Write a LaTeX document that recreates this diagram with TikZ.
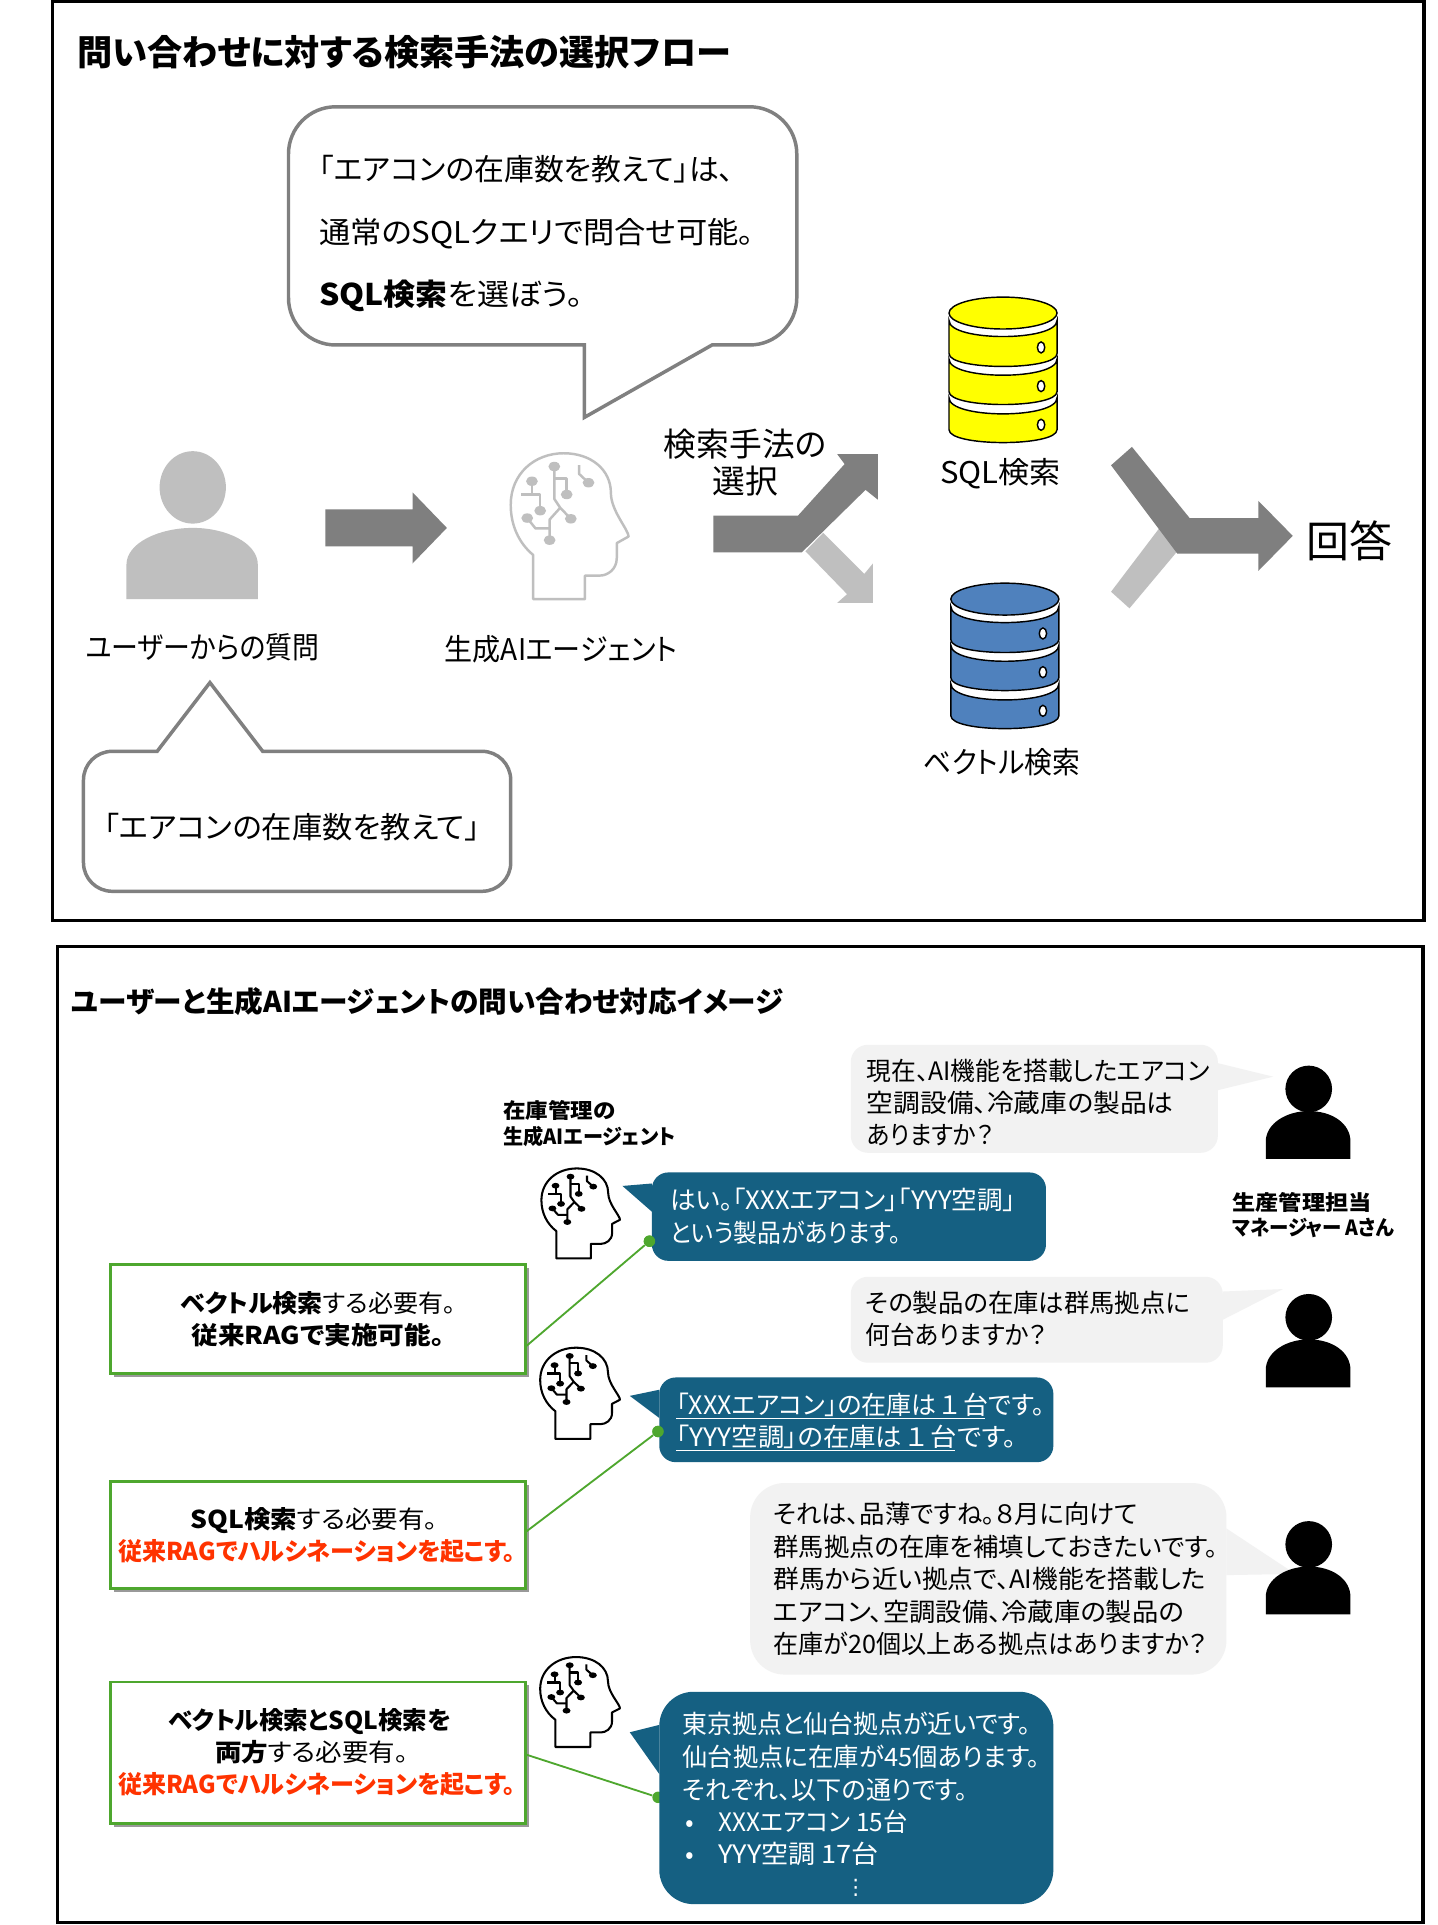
\documentclass[tikz,border=0pt]{standalone}
\usepackage{graphicx}
\usepackage{fontspec}
\setmainfont{Noto Sans CJK JP}[RawFeature={+palt}]
\newfontfamily\dvfont{DejaVu Sans}
\usetikzlibrary{shadows}
\definecolor{gfill}{HTML}{F2F2F2}
\definecolor{bbub}{HTML}{156082}
\definecolor{grn}{HTML}{4EA72E}
\definecolor{redt}{HTML}{FF3300}
\definecolor{ltg}{HTML}{BFBFBF}
\definecolor{dkg}{HTML}{7F7F7F}
\definecolor{cal}{HTML}{808080}
\definecolor{dby}{HTML}{FFFF00}
\definecolor{dbb}{HTML}{4F81BD}
\newcommand{\fsz}[1]{\fontsize{#1}{#1}\selectfont}
\newcommand{\sx}[2]{\scalebox{#1}[1]{#2}}
\newcommand{\padr}[1]{\rule{#1}{0pt}}
\tikzset{
  ln/.style={anchor=base west,inner sep=0pt,outer sep=0pt},
  lc/.style={anchor=base,inner sep=0pt,outer sep=0pt},
  tA/.style={font=\fsz{14.6},yshift=-5.5pt},
  tB/.style={font=\fsz{12.4},yshift=-4.7pt},
  tC/.style={font=\bfseries\fsz{10.2},yshift=-3.7pt},
  callout/.style={draw=cal,line width=1.7pt,fill=white},
  gbub/.style={fill=gfill,inner sep=0pt,rounded corners=8.4pt},
  bbubble/.style={fill=bbub,inner sep=0pt,rounded corners=8pt},
  gbox/.style={draw=grn,line width=1.4pt,fill=white,inner sep=0pt,align=center,
    font=\fontsize{12}{15.8}\selectfont,
    drop shadow={shadow xshift=1.7pt,shadow yshift=-1.7pt,fill=black,opacity=.4}},
  gl/.style={draw=grn,line width=.9pt},
  dot/.style={circle,fill=grn,inner sep=0pt,minimum size=5.6pt},
  frame/.style={draw=black,line width=1.6pt},
}
\newcommand{\brainicon}[6]{%
\begin{scope}[shift={(#1,#2)},xscale=#3,yscale=#4,draw=#5,line width=#6,line join=round]
\draw (.19,1) -- (.19,.70) .. controls (.07,.62) and (0,.50) .. (0,.36)
  .. controls (0,.15) and (.2,.01) .. (.45,.01)
  .. controls (.68,.01) and (.85,.12) .. (.85,.28)
  .. controls (.85,.40) and (1,.53) .. (1,.575)
  -- (.90,.62) -- (.90,.72) .. controls (.90,.80) and (.82,.84) .. (.76,.84)
  -- (.63,.84) -- (.63,1) -- cycle;
\draw (.37,.10) -- (.37,.32) -- (.42,.38) -- (.51,.455);
\draw (.37,.18) -- (.475,.18) -- (.475,.29);
\draw (.42,.38) -- (.33,.46) -- (.33,.60);
\draw (.33,.52) -- (.21,.52) -- (.14,.45);
\draw (.18,.20) -- (.18,.29);
\draw (.09,.29) -- (.25,.29) -- (.25,.40);
\draw (.58,.09) -- (.58,.15) -- (.66,.21);
\foreach \px/\py in {.37/.10,.51/.455,.475/.29,.33/.60,.14/.45,.18/.20,.25/.40,.66/.21}
  \fill[#5] (\px,\py) circle[x radius=.05,y radius=.032];
\end{scope}}
\newcommand{\personblack}[1]{%
\begin{scope}[yshift=-#1*0.6pt]
\fill[black] (1066,887) circle[radius=19];
\fill[black] (1031,944) -- (1031,930) .. controls (1031,915) and (1048,905) .. (1066,905)
  .. controls (1085,905) and (1100,915) .. (1100,930) -- (1100,944) -- cycle;
\end{scope}}
\newcommand{\dbstack}[3]{% cx, top y, colour
\begin{scope}[shift={(#1,#2)},draw=black,line width=.7pt,fill=#3]
\foreach \k in {0,1,2}{
 \pgfmathsetmacro{\yt}{19+31.5*\k}
 \pgfmathsetmacro{\yb}{46+31*\k}
 \filldraw (-44,\yt) .. controls (-44,\yt+17.5) and (44,\yt+17.5) .. (44,\yt) -- (44,\yb)
   .. controls (44,\yb+14) and (-44,\yb+14) .. (-44,\yb) -- cycle;
 \pgfmathsetmacro{\yh}{41+31.5*\k}
 \filldraw[fill=white,line width=.7pt] (31,\yh) circle[x radius=3,y radius=4.5];
}
\filldraw (0,13) circle[x radius=44,y radius=13];
\end{scope}}
\begin{document}
\begin{tikzpicture}[x=0.6pt,y=-0.6pt]
\useasboundingbox (0,0) rectangle (1171,1568);
\fill[white] (0,0) rectangle (1171,1568);
% ---------- top panel
\draw[frame] (43,1) rectangle (1160,750);
\node[ln,font=\bfseries\fsz{17.2},yshift=-6.3pt] (title1) at (63,43) {問い合わせに対する検索手法の選択フロー};
% upper callout
\draw[callout] (476,281) [rounded corners=23pt] -- (235,281) -- (235,87) -- (649,87) -- (649,281) [sharp corners] -- (580,281) -- (476,340) -- cycle;
\node[ln,tA] (c1a) at (260,138) {「エアコンの在庫数を教えて」は、};
\node[ln,tA] (c1b) at (260,189) {\sx{1.047}{通常のSQLクエリで問合せ可能。}};
\node[ln,tA] (c1c) at (260,240) {\sx{1.07}{{\bfseries SQL検索}を選ぼう。}};
% grey user
\fill[ltg] (157,397) circle[x radius=27,y radius=29.5];
\fill[ltg] (103,488) -- (103,460) .. controls (103,442) and (130,430) .. (157,430)
  .. controls (184,430) and (210,442) .. (210,460) -- (210,488) -- cycle;
\node[lc,tA] (lu) at (165,527) {\sx{.90}{ユーザーからの質問}};
% arrow user to agent
\fill[dkg] (265,415) -- (336,415) -- (336,401) -- (364,430) -- (336,459) -- (336,445) -- (265,445) -- cycle;
\brainicon{416}{368}{96}{120}{ltg}{1.2pt}
\node[lc,tA] (la) at (457,529) {\sx{.94}{生成AIエージェント}};
% lower callout
\draw[callout] (128,612) [rounded corners=14pt] -- (68,612) -- (68,726) -- (416,726) -- (416,612) [sharp corners] -- (214,612) -- (171,556) -- cycle;
\node[lc,tA] (c2) at (238,674) {\sx{1.015}{「エアコンの在庫数を教えて」}};
% split arrow
\node[lc,font=\fsz{16},yshift=-5.9pt] (ls1) at (607,362) {検索手法の};
\node[lc,font=\fsz{16},yshift=-5.9pt] (ls2) at (607,392) {選択};
\fill[ltg] (656,449) -- (670.5,434) -- (704,467.5) -- (711,459) -- (711,491) -- (682,491) -- (690,484) -- cycle;
\fill[dkg] (581,420) -- (650,420) -- (688,378) -- (682,370) -- (715,370) -- (715,407) -- (705,399) -- (653,450) -- (581,450) -- cycle;
% databases
\dbstack{817}{242}{dby}
\dbstack{818.5}{475}{dbb}
\node[lc,tA] (lsql) at (815,385) {\sx{1.04}{SQL検索}};
\node[lc,tA] (lvec) at (816,621) {\sx{.93}{ベクトル検索}};
% merge arrow
\fill[ltg] (905,482) -- (949,424) -- (959,449) -- (920,495.5) -- cycle;
\fill[dkg] (922,364) -- (969,422) -- (1025,422) -- (1025,408) -- (1053,436.5) -- (1025,465) -- (1025,451) -- (959,451) -- (905,379) -- cycle;
\node[lc,font=\fsz{21},yshift=-7.9pt] (lans) at (1099,441) {回答};
% ---------- bottom panel
\draw[frame] (47,771) rectangle (1159,1566);
\node[ln,font=\bfseries\fsz{14},yshift=-5.2pt] (title2) at (58,816) {ユーザーと生成AIエージェントの問い合わせ対応イメージ};
\node[ln,tC] (la1) at (410,905) {\sx{1.08}{在庫管理の}};
\node[ln,tC] (la2) at (410,926) {\sx{.965}{生成AIエージェント}};
\node[ln,tC] (lm1) at (1004,980) {\sx{1.11}{生産管理担当}};
\node[ln,tC] (lm2) at (1004,1000) {\sx{.93}{マネージャー Aさん}};
% grey bubbles
\fill[gfill] (992,866) -- (1037,877) -- (992,888) -- cycle;
\node[gbub,minimum width=179.4pt,minimum height=52.8pt] (b1) at (842.5,895) {};
\fill[gfill] (996,1052) -- (1045,1050) -- (996,1075) -- cycle;
\node[gbub,minimum width=181.8pt,minimum height=42pt] (b2) at (844.5,1075) {};
\fill[gfill] (999,1245) -- (1055,1282) -- (999,1283) -- cycle;
\node[gbub,rounded corners=16.8pt,minimum width=232.8pt,minimum height=93.6pt] (b3) at (805,1286) {};
% persons
\personblack{0}
\personblack{186}
\personblack{371}
\node[ln,tB] at (706,872) {\sx{.976}{現在、AI機能を搭載したエアコン}};
\node[ln,tB] at (706,898) {\sx{1.055}{空調設備、冷蔵庫の製品は}};
\node[ln,tB] at (706,924) {\sx{.94}{ありますか？}};
\node[ln,tB] at (705,1061) {その製品の在庫は群馬拠点に};
\node[ln,tB] at (705,1087) {\sx{.975}{何台ありますか？}};
\node[ln,tB] at (630,1233) {それは、品薄ですね。８月に向けて};
\node[ln,tB] at (630,1260) {群馬拠点の在庫を補填しておきたいです。};
\node[ln,tB] at (630,1286) {\sx{1.014}{群馬から近い拠点で、AI機能を搭載した}};
\node[ln,tB] at (630,1313) {\sx{1.037}{エアコン、空調設備、冷蔵庫の製品の}};
\node[ln,tB] at (630,1339) {\sx{.99}{在庫が20個以上ある拠点はありますか？}};
% brains
\brainicon{441}{951}{64}{74}{black}{1pt}
\brainicon{440}{1097}{65}{75}{black}{1pt}
\brainicon{440}{1349}{65}{74}{black}{1pt}
% green boxes
\node[gbox,minimum width=202.8pt,minimum height=53.4pt] (g1) at (259,1074.5) {\sx{1.02}{{\bfseries ベクトル検索}する必要有。}\\\sx{1.085}{\bfseries 従来RAGで実施可能。}};
\node[gbox,minimum width=202.8pt,minimum height=52.2pt] (g2) at (259,1250.5) {\sx{1.08}{{\bfseries SQL検索}する必要有。}\padr{3.6pt}\\\sx{.98}{\bfseries\color{redt}従来RAGでハルシネーションを起こす。}\padr{1.2pt}};
\node[gbox,minimum width=202.8pt,minimum height=69pt] (g3) at (259,1427.5) {{\bfseries ベクトル検索とSQL検索を}\padr{8pt}\\\sx{1.08}{{\bfseries 両方}する必要有。}\padr{6pt}\\\sx{.98}{\bfseries\color{redt}従来RAGでハルシネーションを起こす。}\padr{1.2pt}};
% connectors
\coordinate (a1) at (428,1097);
\coordinate (a2) at (428,1248);
\coordinate (a3) at (428,1429);
\node[dot] (d1) at (529,1011) {};
\node[dot] (d2) at (536,1166) {};
\node[dot] (d3) at (536,1464) {};
\draw[gl] (a1) -- (d1);
\draw[gl] (a2) -- (d2);
\draw[gl] (a3) -- (d3);
% blue bubbles
\fill[bbub] (531,964) -- (507,966) -- (531,987) -- cycle;
\node[bbubble,minimum width=192.6pt,minimum height=43.2pt] (c1) at (691.5,991) {};
\fill[bbub] (537,1132) -- (513,1137) -- (537,1155) -- cycle;
\node[bbubble,minimum width=192.6pt,minimum height=41.4pt] (c3) at (697.5,1156.5) {};
\fill[bbub] (537,1405) -- (513,1411) -- (537,1445) -- cycle;
\node[bbubble,rounded corners=16.8pt,minimum width=192.6pt,minimum height=103.8pt] (c4) at (697.5,1464.5) {};
\node[dot] (d1b) at (d1) {};
\node[dot] (d2b) at (d2) {};
\begin{scope}[every node/.append style={text=white}]
\node[ln,tB] at (546,977) {\sx{1.01}{はい。「XXXエアコン」「YYY空調」}};
\node[ln,tB] at (546,1004) {\sx{.94}{という製品があります。}};
\node[ln,tB] at (551,1144) {\sx{.985}{「XXXエアコン」の在庫は\hspace{2pt}１\hspace{2pt}台です。}};
\node[ln,tB] at (551,1170) {\sx{1.04}{「YYY空調」の在庫は\hspace{2pt}１\hspace{2pt}台です。}};
\node[ln,tB] at (556,1404) {\sx{.98}{東京拠点と仙台拠点が近いです。}};
\node[ln,tB] at (556,1431) {仙台拠点に在庫が45個あります。};
\node[ln,tB] at (556,1458) {\sx{.99}{それぞれ、以下の通りです。}};
\node[ln,tB] at (558,1484) {•};
\node[ln,tB] at (585,1484) {\sx{.96}{XXXエアコン 15台}};
\node[ln,tB] at (558,1510) {•};
\node[ln,tB] at (585,1510) {\sx{1.07}{YYY空調 17台}};
\node[lc,font=\dvfont\fsz{10.4},yshift=-3.7pt] at (697,1537) {⋮};
\end{scope}
\draw[white,line width=.5pt] (551,1155.5) -- (802,1155.5);
\draw[white,line width=.5pt] (551,1181.5) -- (778,1181.5);
\end{tikzpicture}
\end{document}
